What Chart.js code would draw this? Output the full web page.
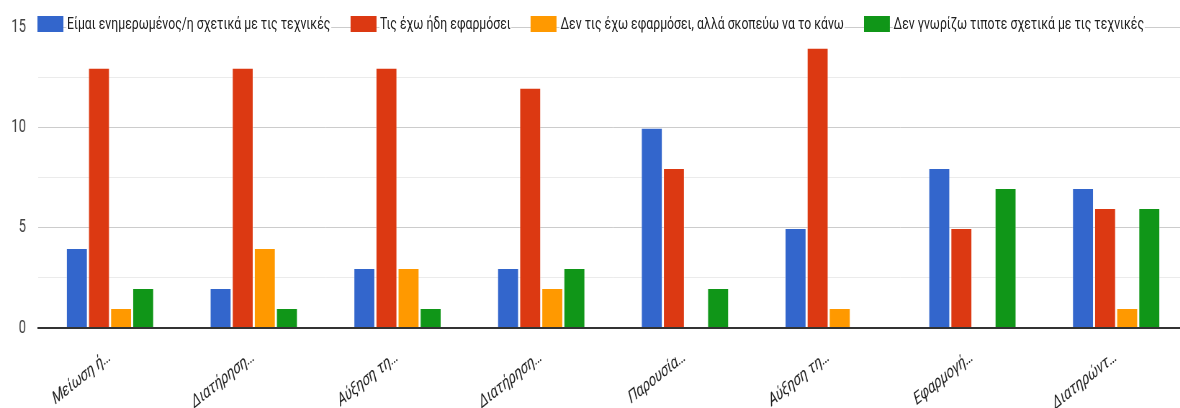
<!DOCTYPE html>
<html lang="el">
<head>
<meta charset="utf-8">
<title>Τεχνικές</title>
<script src="https://cdn.jsdelivr.net/npm/chart.js@4.4.1/dist/chart.umd.min.js"></script>
<style>
    html, body { margin: 0; padding: 0; background: #fff; overflow: hidden; }
    /* the chart is laid out wide and squeezed sideways, as in the reference */
    #wrap {
        position: relative;
        width: 1660px;
        height: 408px;
        transform: scaleX(0.72);
        transform-origin: 0 0;
    }
    #legend {
        position: absolute;
        top: 15px;
        left: 52px;
        display: flex;
        align-items: center;
        font-family: Roboto, sans-serif;
        font-size: 17px;
        color: #222;
        line-height: 17px;
    }
    .item { display: flex; align-items: center; margin-right: 27px; }
    .swatch { width: 36px; height: 16px; margin-right: 4px; }
    .label { background: #fff; padding: 0 1px; white-space: nowrap; }
</style>
</head>
<body>
<div id="wrap">
    <canvas id="chart"></canvas>
    <div id="legend"></div>
</div>
<script>
const categories = ['Μείωση ή…', 'Διατήρηση…', 'Αύξηση τη…', 'Διατήρηση…', 'Παρουσία…', 'Αύξηση τη…', 'Εφαρμογή…', 'Διατηρώντ…'];
const seriesNames = [
    'Είμαι ενημερωμένος/η σχετικά με τις τεχνικές',
    'Τις έχω ήδη εφαρμόσει',
    'Δεν τις έχω εφαρμόσει, αλλά σκοπεύω να το κάνω',
    'Δεν γνωρίζω τιποτε σχετικά με τις τεχνικές'
];
const informed = [4, 2, 3, 3, 10, 5, 8, 7];
const applied = [13, 13, 13, 12, 8, 14, 5, 6];
const planning = [1, 4, 3, 2, 0, 1, 0, 1];
const unaware = [2, 1, 1, 3, 2, 0, 7, 6];
const yTicks = [0, 5, 10, 15];

const colors = ['#3366cc', '#dc3912', '#ff9900', '#109618'];

document.addEventListener('DOMContentLoaded', function () {
    const values = [informed, applied, planning, unaware];

    new Chart(document.getElementById('chart'), {
        type: 'bar',
        data: {
            labels: categories,
            datasets: values.map((data, i) => ({
                label: seriesNames[i],
                data: data,
                backgroundColor: colors[i],
                borderColor: 'rgba(255,255,255,0.45)',
                borderWidth: 1,
                categoryPercentage: 0.615,
                barPercentage: 0.97
            }))
        },
        options: {
            responsive: true,
            maintainAspectRatio: false,
            animation: false,
            layout: { padding: { top: 23, right: 10, left: 0, bottom: 0 } },
            plugins: {
                legend: { display: false },
                tooltip: { enabled: false }
            },
            scales: {
                x: {
                    grid: { display: false },
                    border: { display: true, color: '#333', width: 2 },
                    ticks: {
                        maxRotation: 30,
                        minRotation: 30,
                        padding: 10,
                        color: '#222',
                        font: { family: 'Roboto', size: 18, style: 'italic' }
                    },
                    afterFit: scale => { scale.height = 80; }
                },
                y: {
                    min: 0,
                    max: 15,
                    border: { display: false },
                    grid: {
                        drawTicks: false,
                        color: ctx => ctx.tick.value === 0 ? '#333' : (yTicks.includes(ctx.tick.value) ? '#cccccc' : '#ebebeb'),
                        lineWidth: ctx => ctx.tick.value === 0 ? 2 : 1
                    },
                    ticks: {
                        stepSize: 2.5,
                        padding: 17,
                        color: '#444',
                        font: { family: 'Roboto', size: 18 },
                        callback: v => yTicks.includes(v) ? v : ''
                    },
                    afterFit: scale => { scale.width = 53; }
                }
            }
        }
    });

    // Legend sits on the top gridline, like the original
    const legend = document.getElementById('legend');
    seriesNames.forEach((name, i) => {
        const item = document.createElement('div');
        item.className = 'item';
        item.innerHTML = `<span class="swatch" style="background:${colors[i]}"></span><span class="label">${name}</span>`;
        legend.appendChild(item);
    });
});
</script>
</body>
</html>
